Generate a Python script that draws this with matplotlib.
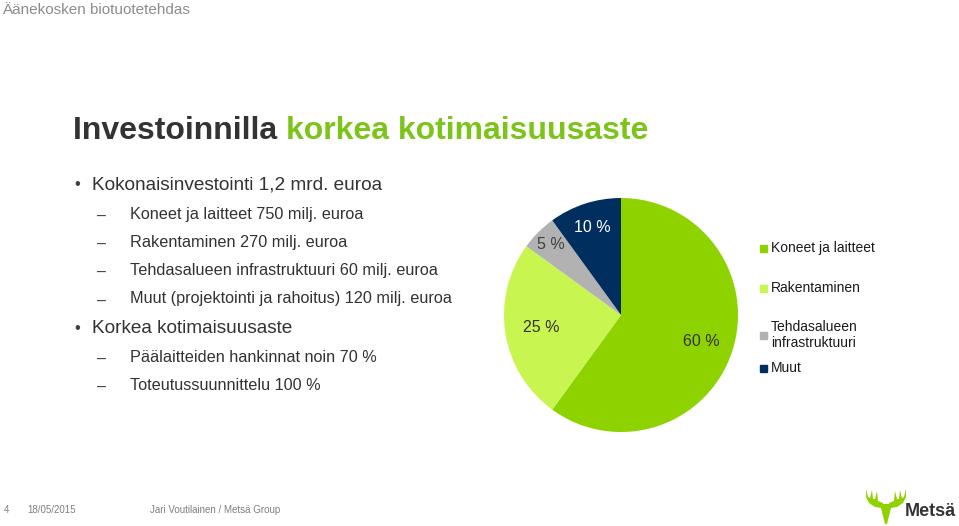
import matplotlib.pyplot as plt
from matplotlib.patches import Polygon
import numpy as np

W, H = 959, 526

CATEGORIES = ["Koneet ja laitteet", "Rakentaminen", "Tehdasalueen\ninfrastruktuuri", "Muut"]
SHARES = [60, 25, 5, 10]
COLORS = ["#8ed200", "#c8f550", "#b2b2b2", "#002f5f"]
LABEL_COLORS = ["#333333", "#333333", "#404040", "#ffffff"]
LABEL_DIST = [0.72, 0.69, 0.85, 0.79]

BULLETS = [
    ("Kokonaisinvestointi 1,2 mrd. euroa", [
        "Koneet ja laitteet 750 milj. euroa",
        "Rakentaminen 270 milj. euroa",
        "Tehdasalueen infrastruktuuri 60 milj. euroa",
        "Muut (projektointi ja rahoitus) 120 milj. euroa",
    ]),
    ("Korkea kotimaisuusaste", [
        "Päälaitteiden hankinnat noin 70 %",
        "Toteutussuunnittelu 100 %",
    ]),
]

plt.rcParams["font.family"] = ["Liberation Sans", "DejaVu Sans"]


def fx(px):
    return px / W


def fy(py):
    return 1 - py / H


fig = plt.figure(figsize=(W / 100, H / 100), dpi=100)
fig.patch.set_facecolor("white")

# header and title
fig.text(fx(2), fy(10), "Äänekosken biotuotetehdas", fontsize=11, color="#8c8c8c", va="center")
t1 = fig.text(fx(73), fy(131), "Investoinnilla ", fontsize=23, fontweight="bold",
              color="#333333", va="center")
renderer = fig.canvas.get_renderer()
bb = t1.get_window_extent(renderer)
fig.text(bb.x1 / W, fy(131), "korkea kotimaisuusaste", fontsize=23, fontweight="bold",
         color="#7cc41a", va="center")

# bullets
y = 185
for head, subs in BULLETS:
    fig.text(fx(74), fy(y), "•", fontsize=12, color="#404040", va="center")
    fig.text(fx(92), fy(y), head, fontsize=13.7, color="#333333", va="center")
    y += 29
    for s in subs:
        fig.text(fx(97), fy(y + 2), "–", fontsize=11.5, color="#404040", va="center")
        fig.text(fx(130), fy(y), s, fontsize=11.7, color="#333333", va="center")
        y += 28.3
    y += 1

# pie
cx, cy, r = 621, 315, 117
ax = fig.add_axes([fx(cx - r), fy(cy + r), 2 * r / W, 2 * r / H])
wedges, _ = ax.pie(SHARES, colors=COLORS, startangle=90, counterclock=False,
                   radius=1, wedgeprops=dict(linewidth=0))
for w, v, d, c in zip(wedges, SHARES, LABEL_DIST, LABEL_COLORS):
    ang = np.deg2rad((w.theta1 + w.theta2) / 2)
    ax.text(d * np.cos(ang), d * np.sin(ang), f"{v} %", ha="center", va="center",
            fontsize=11.5, color=c)
ax.set_xlim(-1, 1)
ax.set_ylim(-1, 1)
ax.set_aspect("auto")
ax.axis("off")

# legend
leg_y = [248, 288, 335, 368]
for name, col, ly in zip(CATEGORIES, COLORS, leg_y):
    fig.patches.append(plt.Rectangle((fx(760), fy(ly + 4)), 7 / W, 7 / H, color=col,
                                     transform=fig.transFigure, figure=fig))
    fig.text(fx(771), fy(ly), name, fontsize=10, color="#1a1a1a", va="center",
             linespacing=1.15)

# footer
fig.text(fx(4), fy(510), "4", fontsize=7, color="#7f7f7f", va="center")
fig.text(fx(27), fy(510), "18/05/2015", fontsize=7, color="#7f7f7f", va="center")
fig.text(fx(150), fy(510), "Jari Voutilainen / Metsä Group", fontsize=7, color="#7f7f7f",
         va="center")

# logo
lax = fig.add_axes([fx(862), fy(526), 48 / W, 40 / H])
lax.set_xlim(862, 910)
lax.set_ylim(526, 486)
antler = [(866, 489), (866, 497), (869, 503), (875, 507), (882, 508), (883, 503),
          (878, 501), (877, 491), (875, 499), (873, 499), (872, 490), (870, 498), (868, 497)]
head = [(880, 504), (892, 504), (890, 512), (887, 524), (885, 524), (882, 512)]
green = "#8ed200"
lax.add_patch(Polygon(antler, closed=True, color=green, lw=0))
lax.add_patch(Polygon([(2 * 886 - x, yy) for x, yy in antler], closed=True, color=green, lw=0))
lax.add_patch(Polygon(head, closed=True, color=green, lw=0))
lax.axis("off")
fig.text(fx(905), fy(512), "Metsä", fontsize=13, fontweight="bold", color="#333333",
         va="center")

fig.savefig("out.png", dpi=100)
